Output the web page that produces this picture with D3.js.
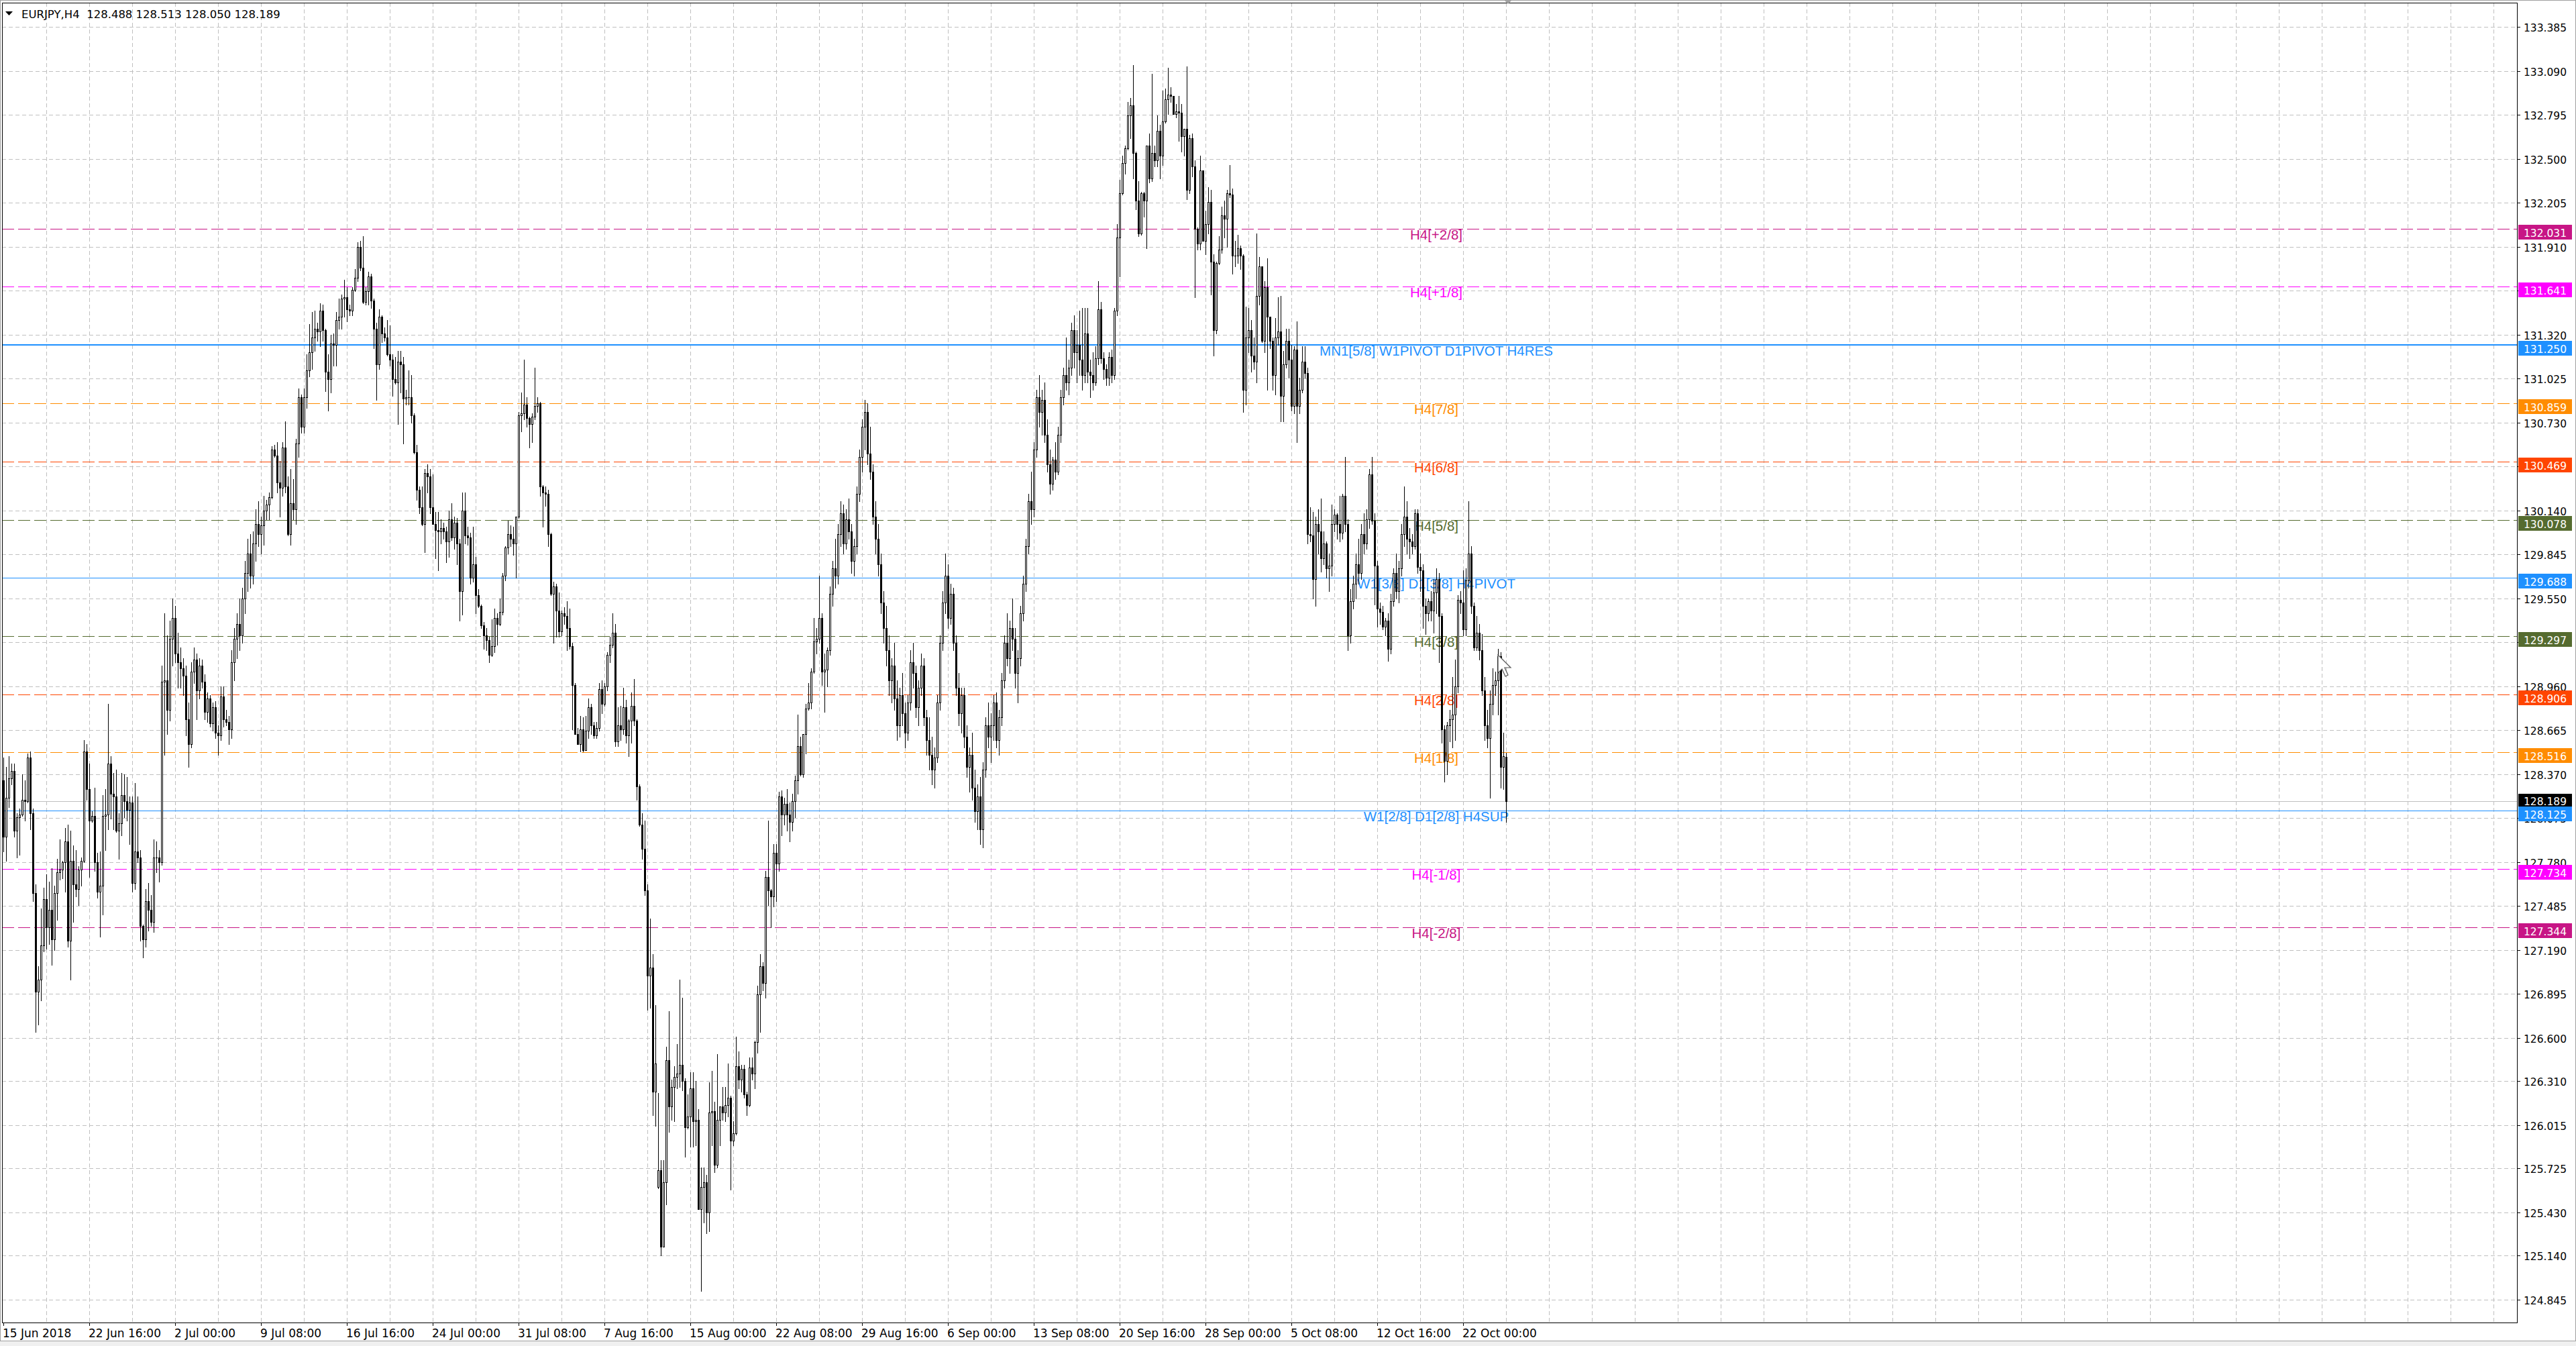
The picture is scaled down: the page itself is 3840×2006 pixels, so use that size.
<!DOCTYPE html>
<html><head><meta charset="utf-8">
<script src="https://cdn.jsdelivr.net/npm/d3@7"></script>
<style>html,body{margin:0;padding:0;background:#fff;overflow:hidden}svg{display:block}</style>
</head><body>
<svg id="c" width="3840" height="2006"></svg>
<script>
// ---------------- DATA ----------------
const symbolTitle = "EURJPY,H4";
const lastQuote = [128.488, 128.513, 128.050, 128.189];

// H4 candles [open, high, low, close]
const ohlcJun = [
[128.33,128.48,127.85,127.95],[127.95,128.42,127.79,128.21],[128.21,128.49,128.15,128.34],[128.34,128.44,128.30,128.39],
[128.39,128.44,127.95,127.99],[127.99,128.11,127.81,128.08],[128.08,128.14,127.83,128.10],[128.10,128.37,128.09,128.20],
[128.20,128.33,128.06,128.19],[128.19,128.51,128.18,128.48],[128.48,128.52,128.00,128.11],[128.11,128.14,127.52,127.57],
[127.57,127.63,126.64,126.91],[126.91,127.08,126.69,126.99],[126.99,127.47,126.85,127.22],[127.22,127.61,127.18,127.53],
[127.53,127.70,127.20,127.34],[127.34,127.65,127.23,127.46],[127.46,127.74,127.09,127.26],[127.26,127.62,127.19,127.57],
[127.57,127.80,127.39,127.71],[127.71,127.93,127.66,127.73],[127.73,127.79,127.67,127.78],[127.78,128.01,127.58,127.92],
[127.92,128.03,127.21,127.25],[127.25,127.99,126.99,127.79],[127.79,127.89,127.38,127.63],[127.63,127.86,127.55,127.60],
[127.60,127.75,127.49,127.73],[127.73,127.81,127.62,127.79],[127.79,128.60,127.78,128.52],[128.52,128.57,128.20,128.27],
[128.27,128.44,127.68,128.06],[128.06,128.12,128.05,128.09],[128.09,128.28,127.72,127.78],[127.78,127.84,127.54,127.58],
[127.58,127.85,127.28,127.62],[127.62,128.23,127.43,128.09],[128.09,128.27,127.86,128.10],[128.10,128.84,128.00,128.44],
[128.44,128.49,128.07,128.24],[128.24,128.38,128.00,128.22],[128.22,128.40,127.98,127.99],[127.99,128.11,127.80,128.04],
[128.04,128.38,127.96,128.23],[128.23,128.37,128.08,128.19],[128.19,128.35,128.06,128.13],[128.13,128.22,127.90,128.18],
[128.18,128.22,127.58,127.64],[127.64,128.31,127.60,127.85],[127.85,128.22,127.78,127.81],[127.81,127.86,127.25,127.35],
[127.35,127.36,127.14,127.26],[127.26,127.60,127.21,127.52],[127.52,127.64,127.32,127.46],[127.46,127.56,127.35,127.38],
[127.38,127.93,127.31,127.81],[127.81,127.92,127.71,127.81],[127.81,127.86,127.65,127.78],[127.78,129.10,127.76,128.99],
[128.99,129.45,128.50,129.00],[129.00,129.30,128.64,128.80],[128.80,129.40,128.73,129.28],[129.28,129.55,129.10,129.42]
];
const ohlcJul = [
[129.42,129.50,129.12,129.18],[129.18,129.32,128.95,129.12],[129.12,129.22,128.95,129.08],[129.08,129.15,128.90,129.03],
[129.03,129.10,128.63,128.74],[128.74,128.85,128.42,128.57],[128.57,129.12,128.55,129.06],[129.06,129.22,128.98,129.14],
[129.14,129.18,128.74,128.93],[128.93,129.15,128.88,129.10],[129.10,129.14,128.95,128.99],[128.99,129.04,128.74,128.79],
[128.79,128.92,128.72,128.88],[128.88,128.90,128.69,128.71],[128.71,128.85,128.66,128.82],[128.82,128.86,128.61,128.65],
[128.65,128.70,128.50,128.63],[128.63,128.96,128.60,128.89],[128.89,128.96,128.69,128.74],[128.74,128.80,128.70,128.72],
[128.72,128.76,128.57,128.67],[128.67,129.20,128.61,129.12],[129.12,129.35,129.00,129.28],[129.28,129.45,129.15,129.38],
[129.38,129.55,129.20,129.30],[129.30,129.62,129.25,129.55],[129.55,129.80,129.45,129.72],[129.72,129.95,129.60,129.85],
[129.85,129.98,129.62,129.70],[129.70,130.00,129.65,129.92],[129.92,130.15,129.80,130.05],[130.05,130.20,129.90,129.98],
[129.98,130.10,129.85,130.04],[130.04,130.24,129.91,130.14],[130.14,130.21,130.08,130.18],[130.18,130.26,130.08,130.23],
[130.23,130.57,130.22,130.55],[130.55,130.58,130.50,130.51],[130.51,130.60,130.26,130.33],[130.33,130.47,130.10,130.29],
[130.29,130.60,130.24,130.56],[130.56,130.74,130.26,130.30],[130.30,130.37,129.97,129.98],[129.98,130.42,129.91,130.19],
[130.19,130.35,130.08,130.15],[130.15,130.62,130.05,130.59],[130.59,130.96,130.50,130.90],[130.90,130.92,130.66,130.70],
[130.70,130.96,130.66,130.90],[130.90,131.19,130.83,131.08],[131.08,131.39,131.04,131.20],[131.20,131.47,131.09,131.30],
[131.30,131.48,131.21,131.36],[131.36,131.40,131.28,131.34],[131.34,131.53,131.24,131.48],[131.48,131.52,131.28,131.35],
[131.35,131.36,130.94,131.07],[131.07,131.19,130.81,131.02],[131.02,131.32,130.93,131.26],[131.26,131.33,131.11,131.25],
[131.25,131.47,131.11,131.42],[131.42,131.56,131.36,131.44],[131.44,131.59,131.36,131.56],[131.56,131.69,131.44,131.57],
[131.57,131.64,131.41,131.49],[131.49,131.52,131.45,131.48],[131.48,131.64,131.45,131.62],[131.62,131.76,131.61,131.70],
[131.70,131.94,131.68,131.91],[131.91,131.95,131.75,131.77],[131.77,131.98,131.53,131.54],[131.54,131.64,131.52,131.61],
[131.61,131.74,131.52,131.71],[131.71,131.73,131.50,131.55],[131.55,131.56,131.23,131.36],[131.36,131.40,130.88,131.12],
[131.12,131.49,131.09,131.44],[131.44,131.45,131.27,131.33],[131.33,131.37,131.28,131.30],[131.30,131.42,131.18,131.19],
[131.19,131.38,131.11,131.15],[131.15,131.19,130.91,131.02],[131.02,131.17,130.99,131.00],[131.00,131.21,130.72,131.14],
[131.14,131.21,130.93,131.12],[131.12,131.17,130.59,130.89],[130.89,130.95,130.85,130.90],[130.90,131.08,130.85,130.90],
[130.90,131.05,130.73,130.78],[130.78,130.79,130.52,130.53],[130.53,130.58,130.21,130.28],[130.28,130.30,130.12,130.16],
[130.16,130.30,130.04,130.05],[130.05,130.42,129.86,130.39],[130.39,130.45,130.26,130.37],[130.37,130.42,130.12,130.16],
[130.16,130.38,130.05,130.05],[130.05,130.13,129.82,130.01],[130.01,130.13,129.74,130.00],[130.00,130.08,129.92,130.02],
[130.02,130.06,129.95,130.00],[130.00,130.03,129.79,129.93],[129.93,130.14,129.83,130.08],[130.08,130.19,129.94,129.96],
[129.96,130.10,129.88,130.06],[130.06,130.09,129.78,129.92],[129.92,129.95,129.40,129.60],[129.60,130.26,129.44,130.14],
[130.14,130.26,129.92,129.97],[129.97,130.03,129.91,129.96],[129.96,129.99,129.65,129.69],[129.69,130.03,129.66,129.78],
[129.78,129.83,129.45,129.57],[129.57,129.61,129.49,129.50],[129.50,129.51,129.35,129.37],[129.37,129.39,129.21,129.30],
[129.30,129.35,129.20,129.27],[129.27,129.29,129.12,129.17],[129.17,129.41,129.16,129.23],[129.23,129.48,129.19,129.42],
[129.42,129.45,129.24,129.38],[129.38,129.55,129.37,129.46],[129.46,129.72,129.44,129.70],[129.70,129.90,129.67,129.89],
[129.89,130.07,129.85,129.98],[129.98,130.04,129.90,129.95],[129.95,130.03,129.84,129.92],[129.92,130.10,129.69,130.10],
[130.10,130.80,130.09,130.78],[130.78,130.93,130.67,130.79],[130.79,131.15,130.75,130.85],[130.85,130.90,130.70,130.76]
];
const ohlcAug = [
[130.76,130.77,130.56,130.72],[130.72,130.79,130.60,130.77],[130.77,131.10,130.75,130.84],[130.84,130.90,130.80,130.86],
[130.86,130.87,130.24,130.30],[130.30,130.31,130.03,130.26],[130.26,130.30,130.17,130.25],[130.25,130.28,129.90,129.98],
[129.98,129.99,129.57,129.58],[129.58,129.66,129.25,129.63],[129.63,129.65,129.29,129.47],[129.47,129.59,129.29,129.33],
[129.33,129.47,129.30,129.45],[129.45,129.49,129.38,129.43],[129.43,129.53,129.20,129.35],[129.35,129.48,129.21,129.23],
[129.23,129.25,128.67,128.97],[128.97,128.98,128.64,128.64],[128.64,128.68,128.57,128.57],[128.57,128.76,128.52,128.67],
[128.67,128.75,128.52,128.53],[128.53,128.76,128.53,128.66],[128.66,128.88,128.61,128.82],[128.82,128.84,128.64,128.70],
[128.70,128.72,128.61,128.63],[128.63,128.72,128.61,128.68],[128.68,128.98,128.66,128.94],[128.94,129.00,128.78,128.84],
[128.84,128.98,128.83,128.96],[128.96,129.19,128.93,129.17],[129.17,129.29,129.12,129.24],[129.24,129.45,129.22,129.32],
[129.32,129.38,128.56,128.59],[128.59,128.82,128.56,128.70],[128.70,128.83,128.60,128.67],[128.67,128.95,128.64,128.82],
[128.82,128.87,128.58,128.63],[128.63,128.74,128.49,128.73],[128.73,128.92,128.58,128.83],[128.83,129.01,128.70,128.73],
[128.73,128.74,128.20,128.29],[128.29,128.30,128.02,128.03],[128.03,128.11,127.80,127.87],[127.87,128.06,127.56,127.59],
[127.59,127.63,126.79,127.02],[127.02,127.40,126.80,127.07],[127.07,127.16,126.08,126.24],[126.24,126.82,126.01,126.43],
[125.60,126.23,125.59,125.71],[125.71,125.78,125.14,125.20],[125.20,125.78,125.20,125.63],[125.63,126.54,125.48,126.45],
[126.45,126.78,125.97,126.14],[126.14,126.32,126.05,126.27],[126.27,126.41,126.04,126.34],[126.34,126.56,126.26,126.36],
[126.36,126.99,126.27,126.42],[126.42,126.87,126.25,126.31],[126.31,126.33,125.80,126.00],[126.00,126.22,125.99,126.07],
[126.07,126.37,125.87,126.26],[126.26,126.37,125.87,126.04],[126.04,126.31,125.88,126.05],[126.05,126.12,125.45,125.45],
[125.45,125.73,124.90,125.60],[125.60,125.73,125.36,125.63],[125.63,125.68,125.29,125.43],[125.43,126.30,125.30,126.10],
[126.10,126.38,125.88,126.11],[126.11,126.17,125.70,125.75],[125.75,126.49,125.73,126.05],[126.05,126.14,125.88,126.14],
[126.14,126.27,126.05,126.10],[126.10,126.27,126.04,126.15],[126.15,126.43,126.07,126.20],[126.20,126.21,125.58,125.91],
[125.91,126.04,125.88,125.96],[125.96,126.61,125.95,126.41],[126.41,126.51,126.26,126.32],[126.32,126.42,126.24,126.39],
[126.39,126.42,126.20,126.22],[126.22,126.24,126.08,126.15],[126.15,126.47,126.14,126.40],[126.40,126.47,126.32,126.36],
[126.36,126.58,126.26,126.57],[126.57,126.95,126.50,126.89],[126.89,127.16,126.64,127.08],[127.08,127.11,126.92,126.97],
[126.97,127.72,126.87,127.68],[127.68,128.06,127.49,127.59],[127.59,127.60,127.34,127.55],[127.55,127.90,127.48,127.84],
[127.84,127.90,127.52,127.77],[127.77,128.25,127.72,128.22],[128.22,128.26,127.96,128.10],[128.10,128.21,128.03,128.17],
[128.17,128.27,127.99,128.10],[128.10,128.18,127.92,128.05],[128.05,128.24,127.99,128.19],[128.19,128.36,128.08,128.33],
[128.33,128.77,128.24,128.56],[128.56,128.62,128.36,128.37],[128.37,128.64,128.35,128.64],[128.64,128.84,128.51,128.81],
[128.81,128.98,128.80,128.85],[128.85,129.08,128.81,129.06],[129.06,129.42,129.05,129.26],[129.26,129.35,129.18,129.28],
[129.28,129.70,129.25,129.42],[129.42,129.45,128.97,129.06],[129.06,129.18,128.79,129.07],[129.07,129.22,128.96,129.20],
[129.20,129.63,129.17,129.58],[129.58,129.80,129.50,129.75],[129.75,129.95,129.62,129.70],[129.70,130.05,129.65,129.98],
[129.98,130.20,129.90,130.12],[130.12,130.18,129.85,129.92],[129.92,130.15,129.88,130.08],[130.08,130.22,129.95,130.00],
[130.00,130.05,129.72,129.80],[129.80,129.95,129.70,129.90],[129.90,130.30,129.85,130.25],[130.25,130.55,130.20,130.50],
[130.50,130.75,130.40,130.70],[130.70,130.88,130.55,130.80],[130.80,130.86,130.45,130.52],[130.52,130.70,130.35,130.40],
[130.40,130.45,130.05,130.10],[130.10,130.20,129.85,129.95],[129.95,130.05,129.70,129.78],[129.78,129.85,129.45,129.52],
[129.52,129.60,129.25,129.35],[129.35,129.50,129.10,129.20],[129.20,129.30,128.90,129.00],[129.00,129.15,128.85,129.10],
[129.10,129.25,128.80,128.88],[128.88,129.00,128.60,128.70]
];
const ohlcSep = [
[128.70,128.95,128.62,128.90],[128.90,129.05,128.70,128.78],[128.78,128.85,128.55,128.65],[128.65,128.90,128.60,128.85],
[128.85,129.20,128.80,129.12],[129.12,129.25,128.95,129.05],[129.05,129.10,128.75,128.82],[128.82,129.00,128.70,128.95],
[128.95,129.18,128.90,129.10],[129.10,129.15,128.70,128.75],[128.75,128.80,128.50,128.60],[128.60,128.75,128.40,128.50],
[128.50,128.62,128.30,128.40],[128.40,128.55,128.28,128.48],[128.48,128.90,128.45,128.85],[128.85,129.30,128.80,129.25],
[129.25,129.60,129.20,129.52],[129.52,129.85,129.45,129.70],[129.70,129.78,129.35,129.42],[129.42,129.65,129.38,129.58],
[129.58,129.62,129.20,129.25],[129.25,129.30,128.90,128.95],[128.95,129.05,128.70,128.78],[128.78,128.95,128.65,128.90],
[128.90,128.95,128.55,128.62],[128.62,128.70,128.35,128.42],[128.42,128.55,128.25,128.50],[128.50,128.65,128.20,128.28],
[128.28,128.40,128.05,128.12],[128.12,128.30,128.00,128.22],[128.22,128.35,127.90,128.00],[128.00,128.45,127.88,128.40],
[128.40,128.75,128.35,128.70],[128.70,128.85,128.55,128.62],[128.62,128.78,128.45,128.70],[128.70,128.90,128.60,128.85],
[128.85,128.92,128.55,128.60],[128.60,128.80,128.50,128.75],[128.75,129.05,128.70,129.00],[129.00,129.30,128.95,129.25],
[129.25,129.45,129.10,129.15],[129.15,129.40,129.05,129.35],[129.35,129.55,129.20,129.28],[129.28,129.35,128.95,129.05],
[129.05,129.20,128.85,129.15],[129.15,129.50,129.10,129.45],[129.45,129.70,129.40,129.65],[129.65,129.95,129.60,129.90],
[129.90,130.25,129.85,130.20],[130.20,130.40,130.05,130.15],[130.15,130.60,130.10,130.55],[130.55,130.95,130.50,130.90],
[130.90,131.05,130.70,130.80],[130.80,130.95,130.65,130.88],[130.88,131.00,130.60,130.65],[130.65,130.75,130.40,130.45],
[130.45,130.55,130.25,130.32],[130.32,130.50,130.28,130.48],[130.48,130.60,130.35,130.40],[130.40,130.70,130.38,130.65],
[130.65,130.95,130.60,130.90],[130.90,131.10,130.85,131.05],[131.05,131.30,130.95,131.00],[131.00,131.15,130.92,131.10],
[131.10,131.40,131.05,131.35],[131.35,131.45,131.10,131.20],[131.20,131.35,131.00,131.25],[131.25,131.48,131.05,131.15],
[131.15,131.50,130.95,131.05],[131.05,131.50,131.00,131.33],[131.33,131.50,131.00,131.07],[131.07,131.15,130.90,131.05],
[131.05,131.20,130.95,131.00],[131.00,131.24,130.98,131.16],[131.16,131.68,131.12,131.49],[131.49,131.54,131.13,131.16],
[131.16,131.20,131.02,131.09],[131.09,131.12,130.98,131.03],[131.03,131.20,130.98,131.17],[131.17,131.22,131.00,131.05],
[131.05,131.50,131.02,131.48],[131.48,132.06,131.45,131.97],[131.97,132.36,131.71,132.27],[132.27,132.52,132.26,132.47],
[132.47,132.59,132.40,132.57],[132.57,132.88,132.56,132.79],[132.79,132.91,132.64,132.86],[132.86,133.13,132.37,132.54],
[132.54,132.55,132.16,132.22],[132.22,132.35,131.98,132.00],[132.00,132.28,131.99,132.27],[132.27,132.28,132.11,132.22],
[132.22,132.59,131.90,132.59],[132.59,132.67,132.34,132.37],[132.37,133.07,132.35,132.54],[132.54,132.59,132.45,132.49],
[132.49,132.79,132.45,132.69],[132.69,132.73,132.37,132.52],[132.52,132.96,132.46,132.75],[132.75,132.97,132.74,132.90],
[132.90,133.11,132.80,132.93],[132.93,132.98,132.88,132.92],[132.92,132.92,132.80,132.80],[132.80,132.87,132.78,132.82],
[132.82,132.92,132.62,132.81],[132.81,132.87,132.55,132.65],[132.65,132.70,132.52,132.70],[132.70,133.12,132.23,132.29],
[132.29,132.66,132.27,132.64],[132.64,132.67,132.38,132.45],[132.45,132.49,131.57,132.03],[132.03,132.04,131.89,131.93],
[131.93,132.52,131.89,132.42],[132.42,132.42,131.95,131.95],[131.95,132.15,131.86,132.06],[132.06,132.31,132.00,132.21],
[132.21,132.29,131.59,131.81],[131.81,131.86,131.18,131.35],[131.35,131.81,131.33,131.80],[131.80,131.98,131.79,131.89]
];
const ohlcOct = [
[131.89,132.18,131.87,132.12],[132.12,132.22,131.97,132.10],[132.10,132.29,131.91,132.27],[132.27,132.46,132.24,132.26],
[132.26,132.30,131.73,131.85],[131.85,131.95,131.78,131.85],[131.85,131.99,131.80,131.90],[131.90,131.92,131.76,131.85],
[131.85,131.86,130.80,130.95],[130.95,131.51,130.85,131.30],[131.30,131.50,131.20,131.35],[131.35,131.42,131.07,131.18],
[131.18,131.30,131.09,131.14],[131.14,132.00,131.00,131.58],[131.58,131.84,131.52,131.78],[131.78,131.78,131.27,131.28],
[131.28,131.68,131.20,131.64],[131.64,131.83,130.95,131.44],[131.44,131.44,131.23,131.28],[131.28,131.30,130.95,131.05],
[131.05,131.43,130.92,131.30],[131.30,131.57,131.25,131.34],[131.34,131.58,130.74,130.91],[130.91,131.21,130.74,131.12],
[131.12,131.36,131.10,131.28],[131.28,131.36,131.03,131.15],[131.15,131.25,130.81,130.84],[130.84,131.24,130.79,131.22],
[131.22,131.41,130.60,130.84],[130.84,131.03,130.79,130.95],[130.95,131.24,130.93,131.14],[131.14,131.24,131.03,131.06],
[131.06,131.10,129.92,129.98],[129.98,130.16,129.93,129.97],[129.97,130.13,129.55,129.68],[129.68,130.10,129.50,130.05],
[130.05,130.15,129.85,130.00],[130.00,130.22,129.73,129.82],[129.82,130.00,129.78,129.92],[129.92,129.93,129.69,129.75],
[129.75,129.85,129.60,129.77],[129.77,130.18,129.70,130.05],[130.05,130.15,130.00,130.11],[130.11,130.12,129.95,130.05],
[130.05,130.24,129.93,129.99],[129.99,130.25,129.95,130.24],[130.24,130.50,130.00,130.05],[130.05,130.08,129.20,129.30],
[129.30,129.61,129.25,129.53],[129.53,129.70,129.48,129.65],[129.65,129.85,129.55,129.78],[129.78,129.95,129.65,129.72],
[129.72,130.05,129.68,129.98],[129.98,130.12,129.85,129.92],[129.92,130.15,129.88,130.08],[130.08,130.42,130.02,130.38],
[130.38,130.50,130.05,130.07],[130.07,130.12,129.51,129.77],[129.77,129.80,129.36,129.48],[129.48,129.52,129.38,129.46],
[129.46,129.50,129.34,129.36],[129.36,129.42,129.30,129.40],[129.40,129.45,129.13,129.21],[129.21,129.58,129.18,129.53],
[129.53,129.75,129.50,129.72],[129.72,129.85,129.55,129.60],[129.60,129.80,129.52,129.75],[129.75,130.05,129.70,129.98],
[129.98,130.30,129.90,130.10],[130.10,130.20,129.85,129.95],[129.95,130.02,129.82,129.93],[129.93,129.98,129.85,129.90],
[129.90,130.15,129.88,130.12],[130.12,130.15,129.72,129.76],[129.76,129.85,129.60,129.74],[129.74,129.78,129.35,129.50],
[129.50,129.55,129.31,129.45],[129.45,129.55,129.40,129.53],[129.53,129.60,129.40,129.47],[129.47,129.68,129.32,129.59],
[129.59,129.75,129.45,129.68],[129.68,129.72,129.12,129.43],[129.43,129.45,128.58,128.67],[128.67,128.70,128.32,128.46],
[128.46,128.72,128.37,128.70],[128.70,128.80,128.59,128.74],[128.74,129.02,128.55,128.77],[128.77,129.14,128.60,128.96],
[128.96,129.57,128.92,129.54],[129.54,129.60,129.45,129.52],[129.52,129.74,129.30,129.34],[129.34,129.75,129.30,129.67],
[129.67,130.20,129.62,129.85],[129.85,129.90,129.45,129.50],[129.50,129.52,129.20,129.22],[129.22,129.43,129.20,129.32],
[129.32,129.38,129.14,129.20],[129.20,129.31,128.90,128.93],[128.93,129.02,128.60,128.70],[128.70,128.80,128.55,128.61],
[128.61,128.93,128.21,128.84],[128.84,129.08,128.77,128.97],[128.97,129.06,128.90,129.00],[129.00,129.21,128.77,129.16],
[129.16,129.19,128.28,128.42],[128.42,128.65,128.27,128.49],[128.488,128.513,128.050,128.189]
];

const priceTicks = [133.385,133.090,132.795,132.500,132.205,131.910,131.615,131.320,131.025,130.730,130.435,130.140,
  129.845,129.550,129.255,128.960,128.665,128.370,128.075,127.780,127.485,127.190,126.895,126.600,126.310,126.015,
  125.725,125.430,125.140,124.845];
const timeLabels = ["15 Jun 2018","22 Jun 16:00","2 Jul 00:00","9 Jul 08:00","16 Jul 16:00","24 Jul 00:00",
  "31 Jul 08:00","7 Aug 16:00","15 Aug 00:00","22 Aug 08:00","29 Aug 16:00","6 Sep 00:00","13 Sep 08:00",
  "20 Sep 16:00","28 Sep 00:00","5 Oct 08:00","12 Oct 16:00","22 Oct 00:00"];
const barsPerLabel = 32;

const levelPrices = [132.031,131.641,131.250,130.859,130.469,130.078,129.688,129.297,128.906,128.516,128.125,127.734,127.344];
const levelNames = ["H4[+2/8]","H4[+1/8]","MN1[5/8] W1PIVOT D1PIVOT H4RES","H4[7/8]","H4[6/8]","H4[5/8]",
  "W1[3/8] D1[3/8] H4PIVOT","H4[3/8]","H4[2/8]","H4[1/8]","W1[2/8] D1[2/8] H4SUP","H4[-1/8]","H4[-2/8]"];
// styles (kept apart from data)
const levelColors = ["#C71585","#FF00FF","#1E90FF","#FF8C00","#FF4500","#556B2F","#1E90FF","#556B2F","#FF4500",
  "#FF8C00","#1E90FF","#FF00FF","#C71585"];
const levelSolid = [false,false,true,false,false,false,true,false,false,false,true,false,false];
const levelWidth = [1,1,2,1,1,1,1,1,1,1,1,1,1];

// ---------------- DRAW ----------------
const ohlc = [].concat(ohlcJun, ohlcJul, ohlcAug, ohlcSep, ohlcOct);
const N = ohlc.length;
const svg = d3.select("#c");
const PL = 3, PT = 4, PR = 3752, PB = 1971;

const x = d3.scaleLinear().domain([0, N - 1]).range([5, 5 + 4 * (N - 1)]);
const y = d3.scaleLinear().domain([124.845, 133.385]).range([1936.5, 40.2]);
const py = v => Math.round(y(v));

svg.append("rect").attr("width", 3840).attr("height", 2006).attr("fill", "#ffffff");
svg.append("rect").attr("x", 0).attr("y", 1999).attr("width", 3840).attr("height", 7).attr("fill", "#f0f0f0");
svg.append("line").attr("x1", 0).attr("x2", 3840).attr("y1", 1998.5).attr("y2", 1998.5).attr("stroke", "#d8d8d8");
svg.append("rect").attr("x", 0.5).attr("y", 0.5).attr("width", 3839).attr("height", 1998).attr("fill", "none").attr("stroke", "#a0a0a0");

const defs = svg.append("defs");
defs.append("clipPath").attr("id", "plotclip").append("rect")
  .attr("x", PL + 1).attr("y", PT + 1).attr("width", PR - PL - 1).attr("height", PB - PT - 1);
const plot = svg.append("g").attr("clip-path", "url(#plotclip)").attr("shape-rendering", "crispEdges");

// grid
plot.append("g").selectAll("line").data(priceTicks).join("line")
  .attr("x1", PL).attr("x2", PR).attr("y1", d => py(d) + 0.5).attr("y2", d => py(d) + 0.5)
  .attr("stroke", "#c0c0c0").attr("stroke-dasharray", "6,4");
const vIdx = d3.range(16, 2000, 16).filter(i => x(i) < PR);
plot.append("g").selectAll("line").data(vIdx).join("line")
  .attr("x1", d => x(d) + 0.5).attr("x2", d => x(d) + 0.5).attr("y1", PT).attr("y2", PB)
  .attr("stroke", "#c0c0c0").attr("stroke-dasharray", "6,4");

// level lines
const levels = levelPrices.map((p, i) => ({ p, name: levelNames[i], color: levelColors[i], solid: levelSolid[i], w: levelWidth[i] }));
plot.append("g").selectAll("line").data(levels).join("line")
  .attr("x1", PL).attr("x2", PR)
  .attr("y1", d => d.w === 2 ? py(d.p) : py(d.p) + 0.5).attr("y2", d => d.w === 2 ? py(d.p) : py(d.p) + 0.5)
  .attr("stroke", d => d.color).attr("stroke-width", d => d.w)
  .attr("stroke-dasharray", d => d.solid ? null : "18,6");
// bid line
plot.append("line").attr("x1", PL).attr("x2", PR)
  .attr("y1", py(lastQuote[3]) + 0.5).attr("y2", py(lastQuote[3]) + 0.5).attr("stroke", "#c0c0c0");

// level texts
svg.append("g").selectAll("text").data(levels).join("text")
  .attr("x", 2141).attr("y", d => py(d.p) + 16)
  .attr("text-anchor", "middle").attr("fill", d => d.color)
  .style("font-family", "'Liberation Sans', Arial, sans-serif").style("font-size", "20.5px")
  .text(d => d.name);

// candles
const cg = svg.append("g").attr("clip-path", "url(#plotclip)").attr("shape-rendering", "crispEdges");
const bars = ohlc.map((d, i) => ({ i, o: d[0], h: d[1], l: d[2], c: d[3] }));
cg.append("g").selectAll("line").data(bars).join("line")
  .attr("x1", d => x(d.i) + 0.5).attr("x2", d => x(d.i) + 0.5)
  .attr("y1", d => py(d.h)).attr("y2", d => py(d.l) + 1)
  .attr("stroke", "#000");
cg.append("g").selectAll("rect").data(bars).join("rect")
  .each(function (d) {
    const top = py(Math.max(d.o, d.c)), bot = py(Math.min(d.o, d.c));
    const sel = d3.select(this);
    if (d.c < d.o) {
      sel.attr("x", x(d.i) - 1).attr("y", top).attr("width", 3).attr("height", Math.max(1, bot - top + 1)).attr("fill", "#000");
    } else if (bot - top < 1) {
      sel.attr("x", x(d.i) - 1).attr("y", top).attr("width", 3).attr("height", 1).attr("fill", "#000");
    } else {
      sel.attr("x", x(d.i) - 0.5).attr("y", top + 0.5).attr("width", 2).attr("height", bot - top)
        .attr("fill", "#fff").attr("stroke", "#000").attr("stroke-width", 1);
    }
  });

// plot border
svg.append("rect").attr("x", PL + 0.5).attr("y", PT + 0.5).attr("width", PR - PL).attr("height", PB - PT)
  .attr("fill", "none").attr("stroke", "#000").attr("shape-rendering", "crispEdges");

// price axis
const ax = svg.append("g").attr("shape-rendering", "crispEdges");
ax.selectAll("line").data(priceTicks).join("line")
  .attr("x1", PR).attr("x2", PR + 5).attr("y1", d => py(d) + 0.5).attr("y2", d => py(d) + 0.5).attr("stroke", "#000");
svg.append("g").selectAll("text").data(priceTicks).join("text")
  .attr("x", 3762).attr("y", d => py(d) + 7)
  .style("font-family", "'DejaVu Sans', Verdana, sans-serif").style("font-size", "15.5px").attr("fill", "#000")
  .text(d => d.toFixed(3));

// current price label (drawn first, centered on the line)
const bidY = py(lastQuote[3]);
svg.append("rect").attr("x", 3754).attr("y", bidY - 11).attr("width", 80).attr("height", 22).attr("fill", "#000");
svg.append("text").attr("x", 3762).attr("y", bidY + 6).attr("fill", "#fff")
  .style("font-family", "'DejaVu Sans', Verdana, sans-serif").style("font-size", "15.5px").text(lastQuote[3].toFixed(3));

// level price labels
const lb = svg.append("g").selectAll("g").data(levels).join("g");
lb.append("rect").attr("x", 3754).attr("y", d => py(d.p) - 6).attr("width", 80).attr("height", 22).attr("fill", d => d.color);
lb.append("text").attr("x", 3762).attr("y", d => py(d.p) + 12)
  .style("font-family", "'DejaVu Sans', Verdana, sans-serif").style("font-size", "15.5px").attr("fill", "#fff")
  .text(d => d.p.toFixed(3));

// time axis
const tIdx = timeLabels.map((t, k) => ({ t, i: k * barsPerLabel }));
svg.append("g").attr("shape-rendering", "crispEdges").selectAll("line").data(tIdx).join("line")
  .attr("x1", d => x(d.i) + 0.5).attr("x2", d => x(d.i) + 0.5).attr("y1", PB).attr("y2", PB + 5).attr("stroke", "#000");
svg.append("g").selectAll("text").data(tIdx).join("text")
  .attr("x", d => x(d.i) - 1).attr("y", 1993)
  .style("font-family", "'DejaVu Sans', Verdana, sans-serif").style("font-size", "17px").attr("fill", "#000")
  .text(d => d.t);

// header
svg.append("path").attr("d", "M8,17 L19,17 L13.5,23 Z").attr("fill", "#000");
svg.append("text").attr("x", 32).attr("y", 26.5)
  .style("font-family", "'DejaVu Sans', Verdana, sans-serif").style("font-size", "16.5px").style("white-space", "pre")
  .attr("fill", "#000")
  .text(symbolTitle + "  " + lastQuote.map(v => v.toFixed(3)).join(" "));

// chart shift marker
const sx = x(N - 1) + 3;
svg.append("path").attr("d", `M${sx - 6},0 L${sx + 6},0 L${sx},6 Z`).attr("fill", "#a0a0a0");

// mouse cursor
const cx0 = 2233, cy0 = 976;
svg.append("path")
  .attr("d", `M${cx0},${cy0} l0,27 l6,-6 l5,11 l4,-2 l-5,-11 l9,0 Z`)
  .attr("fill", "#fff").attr("stroke", "#555").attr("stroke-width", 1.2);
</script>
</body></html>
